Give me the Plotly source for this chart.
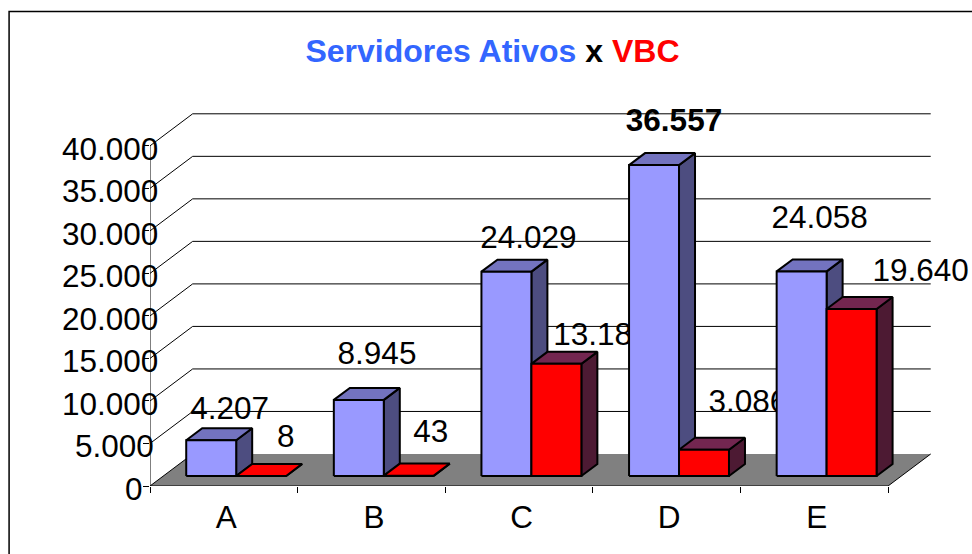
import plotly.graph_objects as go

categories = ["A", "B", "C", "D", "E"]
servidores = [4207, 8945, 24029, 36557, 24058]
vbc = [8, 43, 13186, 3086, 19640]
servidores_text = ["4.207", "8.945", "24.029", "<b>36.557</b>", "24.058"]
vbc_text = ["8", "43", "13.186", "3.086", "19.640"]
y_ticks = [0, 5000, 10000, 15000, 20000, 25000, 30000, 35000, 40000]
y_tick_text = ["0", "5.000", "10.000", "15.000", "20.000", "25.000", "30.000", "35.000", "40.000"]

# page geometry (pixels)
W, H = 972, 554
X0, Y0 = 149.5, 485.8
PX_PER_CAT, PX_PER_VAL = 147.7, 0.0085
DEPTH_PX = (42.7, 32.0)
TOP_PX = 95.0

# label nudges in pixels from the top centre of each bar
serv_off = [(18.5, -29.5), (18.2, -43.5), (22, -31.5), (20, -42.1), (18, -51.5)]
vbc_off = [(24.5, -36.5), (22, -41), (45, -26.5), (44, -45.5), (69, -35.5)]
y_label_right = [142, 153, 157, 157, 157, 157, 157, 157, 157]

DX, DY = DEPTH_PX[0] / PX_PER_CAT, DEPTH_PX[1] / PX_PER_VAL
LINE = "#000000"
BLUE = ("#9999FF", "#7373BF", "#4D4D80")
RED = ("#FF0000", "#732650", "#4D1A33")
FS = 31.5
FONT = "Liberation Sans, Arial, sans-serif"
N = len(categories)

fig = go.Figure()


def poly(xs, ys, fill, width=2.0, color=LINE):
    fig.add_trace(go.Scatter(
        x=xs + xs[:1], y=ys + ys[:1], mode="lines", fill="toself", fillcolor=fill,
        line=dict(color=color, width=width), hoverinfo="skip", showlegend=False))


def path(xs, ys, width=1.0):
    fig.add_trace(go.Scatter(
        x=xs, y=ys, mode="lines", line=dict(color=LINE, width=width),
        hoverinfo="skip", showlegend=False))


def box(x0, x1, v, colors):
    fd = 0.3125  # front plane of the bars on the depth axis
    bd = 0.6875  # back plane
    fx, bx = DX * fd, DX * bd
    fy, by = DY * fd, DY * bd
    top = colors[0] if v < 100 else colors[1]
    poly([x1 + fx, x1 + bx, x1 + bx, x1 + fx], [fy, by, by + v, fy + v], colors[2])
    poly([x0 + fx, x1 + fx, x1 + bx, x0 + bx], [fy + v, fy + v, by + v, by + v], top)
    poly([x0 + fx, x1 + fx, x1 + fx, x0 + fx], [fy, fy, fy + v, fy + v], colors[0])


def label(cx, v, off, text):
    fy = DY * 0.3125
    fig.add_trace(go.Scatter(
        x=[cx + DX * 0.3125 + off[0] / PX_PER_CAT], y=[fy + v - off[1] / PX_PER_VAL],
        mode="text", text=[text], textposition="middle center",
        textfont=dict(family=FONT, size=FS, color="#000000"),
        hoverinfo="skip", showlegend=False))


# back wall grid
for v in y_ticks:
    if v == 0:
        continue
    path([0, DX, N + DX], [v, v + DY, v + DY])
# front axis line
path([0, 0], [0, 40000])

# floor
fig.add_trace(go.Scatter(
    x=[0, N, N + DX, DX, 0], y=[0, 0, DY, DY, 0], mode="lines", fill="toself",
    fillcolor="#808080", line=dict(color="#808080", width=0),
    hoverinfo="skip", showlegend=False))
path([DX, 0, N, N + DX], [DY, 0, 0, DY])

LEAD = 0.155   # empty share of a category before the first bar
BAR_W = 0.3385  # bar width as a share of a category
for i in range(N):
    x0 = i + LEAD
    xm = x0 + BAR_W
    x1 = xm + BAR_W
    box(x0, xm, servidores[i], BLUE)
    box(xm, x1, vbc[i], RED)
    label((x0 + xm) / 2, servidores[i], serv_off[i], servidores_text[i])
    label((xm + x1) / 2, vbc[i], vbc_off[i], vbc_text[i])

annotations = []
for v, t, r in zip(y_ticks, y_tick_text, y_label_right):
    annotations.append(dict(
        x=0, y=v, xref="x", yref="y", text=t, showarrow=False,
        xanchor="right", yanchor="middle", xshift=r - X0, yshift=-3,
        font=dict(family=FONT, size=FS, color="#000000"),
        borderpad=0, borderwidth=0))

fig.update_layout(
    width=W, height=H, autosize=False,
    margin=dict(l=X0, r=0, t=TOP_PX, b=H - Y0, pad=0),
    paper_bgcolor="#FFFFFF", plot_bgcolor="#FFFFFF",
    showlegend=False,
    title=dict(
        text="<b><span style='color:#3366FF'>Servidores Ativos</span> x "
             "<span style='color:#FF0000'>VBC</span></b>",
        font=dict(family=FONT, size=32, color="#000000"),
        x=492.5 / W, xref="container", xanchor="center",
        y=1 - 51 / H, yref="container", yanchor="middle"),
    annotations=annotations,
    xaxis=dict(
        range=[0, (W - X0) / PX_PER_CAT], showgrid=False, zeroline=False, showline=False,
        tickmode="array", tickvals=[i + 0.5 + 2.5 / PX_PER_CAT for i in range(N)],
        ticktext=categories, ticks="", ticklabelstandoff=9,
        tickfont=dict(family=FONT, size=FS, color="#000000"),
        minor=dict(tickmode="array", tickvals=list(range(N + 1)), ticks="outside",
                   ticklen=6, tickwidth=1, tickcolor="#000000", showgrid=False)),
    yaxis=dict(
        range=[0, (Y0 - TOP_PX) / PX_PER_VAL], showgrid=False, zeroline=False, showline=False,
        tickmode="array", tickvals=y_ticks, ticktext=[""] * len(y_ticks),
        ticks="outside", ticklen=6, tickwidth=1, tickcolor="#000000"),
    shapes=[dict(
        type="path", xref="paper", yref="paper", layer="above",
        path=f"M {(8.5 - X0) / (W - X0)} {-(H - Y0) / (Y0 - TOP_PX)} "
             f"L {(8.5 - X0) / (W - X0)} {(Y0 - 11.5) / (Y0 - TOP_PX)} "
             f"L 1 {(Y0 - 11.5) / (Y0 - TOP_PX)}",
        line=dict(color="#000000", width=1.5))],
)

fig.write_html(
    "out.html",
    config={"displayModeBar": False},
    post_script="document.body.style.margin='0';document.documentElement.style.overflow='hidden';",
)
